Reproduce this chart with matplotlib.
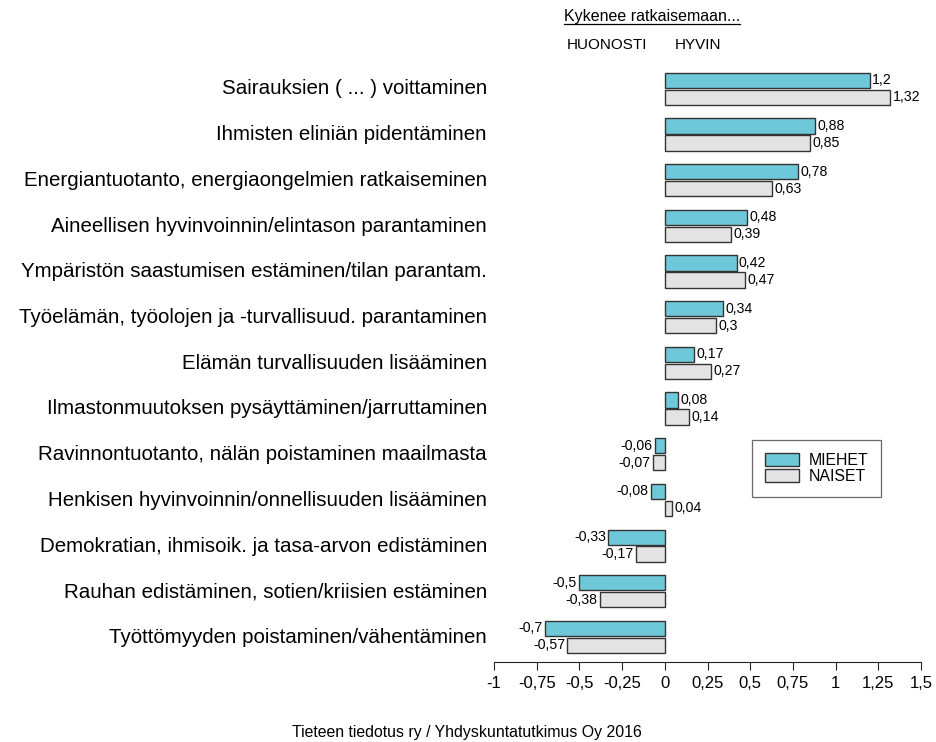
import matplotlib
matplotlib.use("Agg")
import matplotlib.pyplot as plt
from matplotlib.lines import Line2D
from matplotlib.patches import Patch
import numpy as np

plt.rcParams['font.family'] = ['Liberation Sans', 'DejaVu Sans']

categories = [
    "Sairauksien ( ... ) voittaminen",
    "Ihmisten eliniän pidentäminen",
    "Energiantuotanto, energiaongelmien ratkaiseminen",
    "Aineellisen hyvinvoinnin/elintason parantaminen",
    "Ympäristön saastumisen estäminen/tilan parantam.",
    "Työelämän, työolojen ja -turvallisuud. parantaminen",
    "Elämän turvallisuuden lisääminen",
    "Ilmastonmuutoksen pysäyttäminen/jarruttaminen",
    "Ravinnontuotanto, nälän poistaminen maailmasta",
    "Henkisen hyvinvoinnin/onnellisuuden lisääminen",
    "Demokratian, ihmisoik. ja tasa-arvon edistäminen",
    "Rauhan edistäminen, sotien/kriisien estäminen",
    "Työttömyyden poistaminen/vähentäminen",
]
miehet = [1.2, 0.88, 0.78, 0.48, 0.42, 0.34, 0.17, 0.08, -0.06, -0.08, -0.33, -0.5, -0.7]
naiset = [1.32, 0.85, 0.63, 0.39, 0.47, 0.3, 0.27, 0.14, -0.07, 0.04, -0.17, -0.38, -0.57]
tick_values = [-1, -0.75, -0.5, -0.25, 0, 0.25, 0.5, 0.75, 1, 1.25, 1.5]
series_names = ["MIEHET", "NAISET"]

col_m = "#6fc7da"
col_n = "#e3e3e3"
edge = "#333333"

W, H = 937, 742
fig = plt.figure(figsize=(W / 100, H / 100), dpi=100)
ax = fig.add_axes([494 / W, 1 - 662 / H, (921 - 494) / W, (662 - 66) / H])


def fmt(v):
    return f"{v:g}".replace(".", ",")


y = np.arange(len(categories))
h = 0.33
off = 0.186
ax.barh(y - off, miehet, height=h, color=col_m, edgecolor=edge, linewidth=1)
ax.barh(y + off, naiset, height=h, color=col_n, edgecolor=edge, linewidth=1)

for ys, vals in ((y - off, miehet), (y + off, naiset)):
    for yi, v in zip(ys, vals):
        ax.text(v + (0.014 if v >= 0 else -0.014), yi, fmt(v),
                ha="left" if v >= 0 else "right", va="center", fontsize=10.2)

ax.set_xlim(-1, 1.5)
ax.set_ylim(len(categories) - 1 + 0.55, -0.5)
for s in ["top", "right", "left"]:
    ax.spines[s].set_visible(False)
ax.spines["bottom"].set_color("#222222")
ax.set_xticks(tick_values)
ax.set_xticklabels([fmt(t) for t in tick_values], fontsize=12)
ax.tick_params(axis="x", length=6, color="#222222", pad=4)
ax.set_yticks([])

for yi, c in zip(y, categories):
    fig.text(487 / W, 1 - (89 + 45.7 * yi) / H, c, ha="right", va="center", fontsize=14.8)

# header above the zero line
t = fig.text(564 / W, 1 - 17 / H, "Kykenee ratkaisemaan...", ha="left", va="center", fontsize=11.5)
fig.text(567 / W, 1 - 45 / H, "HUONOSTI", ha="left", va="center", fontsize=11)
fig.text(675 / W, 1 - 45 / H, "HYVIN", ha="left", va="center", fontsize=11)
fig.canvas.draw()
bb = t.get_window_extent(fig.canvas.get_renderer())
fig.add_artist(Line2D([bb.x0 / W, bb.x1 / W], [(H - 24) / H] * 2,
                      transform=fig.transFigure, color="black", linewidth=0.9))

handles = [Patch(facecolor=col_m, edgecolor=edge, label=series_names[0]),
           Patch(facecolor=col_n, edgecolor=edge, label=series_names[1])]
leg = fig.legend(handles=handles, loc="upper left", bbox_to_anchor=(752 / W, 1 - 440 / H),
                 fontsize=11.4, frameon=True, fancybox=False, edgecolor="#444444",
                 handlelength=2.2, handleheight=0.9, labelspacing=0.1, borderpad=0.8,
                 handletextpad=0.6, borderaxespad=0)
leg.get_frame().set_linewidth(0.9)

fig.text(467 / W, 1 - 733 / H, "Tieteen tiedotus ry / Yhdyskuntatutkimus Oy 2016",
         ha="center", va="center", fontsize=11.4)

fig.savefig("out.png", dpi=100)
